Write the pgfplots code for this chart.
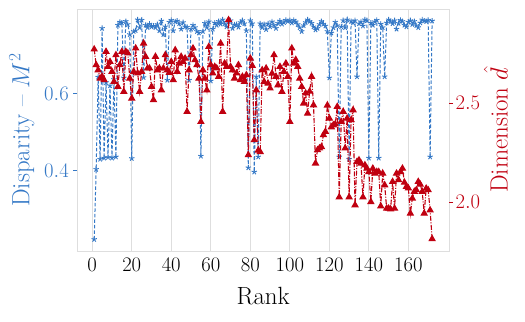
\documentclass[border=0pt]{standalone}
\usepackage{pgfplots}
\usepackage{pgfplotstable}
\pgfplotsset{compat=1.18}

\definecolor{mblue}{RGB}{52,120,198}
\definecolor{mred}{RGB}{192,0,16}
\definecolor{gridgray}{RGB}{222,222,222}

% rank, disparity M^2, dimension d-hat
\pgfplotstableread{
rank m2 d
1 0.223 2.773
2 0.404 2.694
3 0.642 2.668
4 0.430 2.626
5 0.768 2.635
6 0.433 2.618
7 0.628 2.761
8 0.435 2.685
9 0.620 2.710
10 0.433 2.660
11 0.636 2.609
12 0.436 2.744
13 0.776 2.584
14 0.784 2.694
15 0.782 2.761
16 0.640 2.559
17 0.786 2.761
18 0.778 2.753
19 0.752 2.626
20 0.432 2.525
21 0.760 2.660
22 0.762 2.778
23 0.790 2.652
24 0.770 2.559
25 0.789 2.660
26 0.641 2.803
27 0.776 2.736
28 0.770 2.677
29 0.779 2.677
30 0.772 2.584
31 0.774 2.517
32 0.770 2.736
33 0.778 2.668
34 0.762 2.677
35 0.787 2.567
36 0.752 2.677
37 0.772 2.744
38 0.634 2.668
39 0.784 2.655
40 0.789 2.710
41 0.762 2.618
42 0.785 2.769
43 0.787 2.660
44 0.780 2.702
45 0.766 2.736
46 0.783 2.710
47 0.772 2.727
48 0.771 2.458
49 0.634 2.668
50 0.766 2.744
51 0.776 2.778
52 0.770 2.719
53 0.760 2.694
54 0.756 2.626
55 0.438 2.407
56 0.760 2.668
57 0.781 2.626
58 0.770 2.567
59 0.785 2.786
60 0.632 2.694
61 0.766 2.652
62 0.782 2.685
63 0.776 2.677
64 0.786 2.635
65 0.779 2.803
66 0.790 2.458
67 0.780 2.702
68 0.772 2.685
69 0.785 2.921
70 0.788 2.685
71 0.768 2.668
72 0.777 2.626
73 0.778 2.652
74 0.771 2.694
75 0.783 2.618
76 0.788 2.635
77 0.780 2.609
78 0.762 2.643
79 0.408 2.239
80 0.788 2.727
81 0.780 2.690
82 0.397 2.315
83 0.643 2.567
84 0.436 2.262
85 0.780 2.255
86 0.770 2.668
87 0.778 2.609
88 0.765 2.677
89 0.780 2.600
90 0.772 2.576
91 0.785 2.651
92 0.776 2.744
93 0.768 2.635
94 0.781 2.592
95 0.787 2.685
96 0.779 2.559
97 0.783 2.660
98 0.789 2.702
99 0.786 2.635
100 0.788 2.407
101 0.782 2.778
102 0.789 2.702
103 0.785 2.720
104 0.778 2.685
105 0.770 2.626
106 0.760 2.584
107 0.775 2.500
108 0.783 2.551
109 0.790 2.449
110 0.786 2.560
111 0.781 2.635
112 0.772 2.491
113 0.764 2.197
114 0.768 2.264
115 0.778 2.273
116 0.786 2.280
117 0.779 2.340
118 0.774 2.357
119 0.760 2.490
120 0.640 2.424
121 0.756 2.380
122 0.770 2.390
123 0.784 2.395
124 0.775 2.483
125 0.436 2.026
126 0.772 2.407
127 0.788 2.458
128 0.770 2.273
129 0.790 2.424
130 0.430 2.026
131 0.786 2.416
132 0.782 2.466
133 0.788 1.986
134 0.643 2.205
135 0.780 2.213
136 0.785 2.197
137 0.774 2.026
138 0.790 2.188
139 0.788 2.171
140 0.433 2.154
141 0.782 2.002
142 0.776 2.171
143 0.785 2.146
144 0.789 2.154
145 0.433 2.154
146 0.779 1.980
147 0.770 2.146
148 0.643 2.087
149 0.782 1.969
150 0.790 1.969
151 0.786 1.965
152 0.780 2.104
153 0.788 1.969
154 0.766 2.146
155 0.781 2.113
156 0.789 2.154
157 0.786 2.171
158 0.776 2.100
159 0.772 2.079
160 0.784 2.071
161 0.788 1.944
162 0.778 2.020
163 0.786 2.054
164 0.775 2.062
165 0.770 2.104
166 0.782 2.090
167 0.790 2.054
168 0.787 1.944
169 0.786 2.070
170 0.789 2.062
171 0.436 1.960
172 0.787 1.815
}\ranktable

\begin{document}
\begin{tikzpicture}
\pgfplotsset{
  every axis/.append style={
    scale only axis,
    width=371.7bp, height=241.7bp,
    xmin=-7.55, xmax=180.55,
    tick label style={font=\fontsize{21}{24}\selectfont},
    label style={font=\fontsize{25}{28}\selectfont},
    tick align=outside,
    major tick length=4bp,
  },
}
\begin{axis}[
  name=ax,
  ymin=0.193, ymax=0.817,
  axis line style={gridgray, line width=0.9bp},
  xtick={0,20,...,160},
  xtick style={draw=none},
  xmajorgrids,
  major grid style={gridgray, line width=0.9bp},
  ytick={0.4,0.6},
  ytick pos=left,
  ytick style={mblue, line width=0.8bp},
  yticklabel style={mblue, xshift=-1bp, /pgf/number format/fixed, /pgf/number format/precision=1, /pgf/number format/fixed zerofill},
  xlabel={Rank},
  xlabel style={yshift=-9bp},
  ylabel={Disparity -- $M^2$},
  ylabel style={mblue, yshift=3bp},
]
\addplot[mblue, line width=1bp, dash pattern=on 3.5bp off 2bp,
  mark=star, mark size=2.8bp, mark options={solid, line width=0.9bp}]
  table[x=rank, y=m2] {\ranktable};
\end{axis}
\begin{axis}[
  ymin=1.754, ymax=2.975,
  axis line style={draw=none},
  xtick=\empty,
  ytick={2.0,2.5},
  ytick pos=right,
  yticklabel pos=right,
  ytick style={mred, line width=0.8bp},
  yticklabel style={mred, xshift=-1bp, /pgf/number format/fixed, /pgf/number format/precision=1, /pgf/number format/fixed zerofill},
  ylabel={Dimension $\hat{d}$},
  ylabel style={mred, yshift=3bp},
]
\addplot[mred, line width=1.1bp, dash pattern=on 5bp off 1.5bp on 1bp off 1.5bp,
  mark=triangle*, mark size=3.3bp, mark options={solid, fill=mred}]
  table[x=rank, y=d] {\ranktable};
\end{axis}
\path (ax.south west) ++(-77.3bp,-71bp) rectangle ++(525bp,322bp);
\end{tikzpicture}
\end{document}
